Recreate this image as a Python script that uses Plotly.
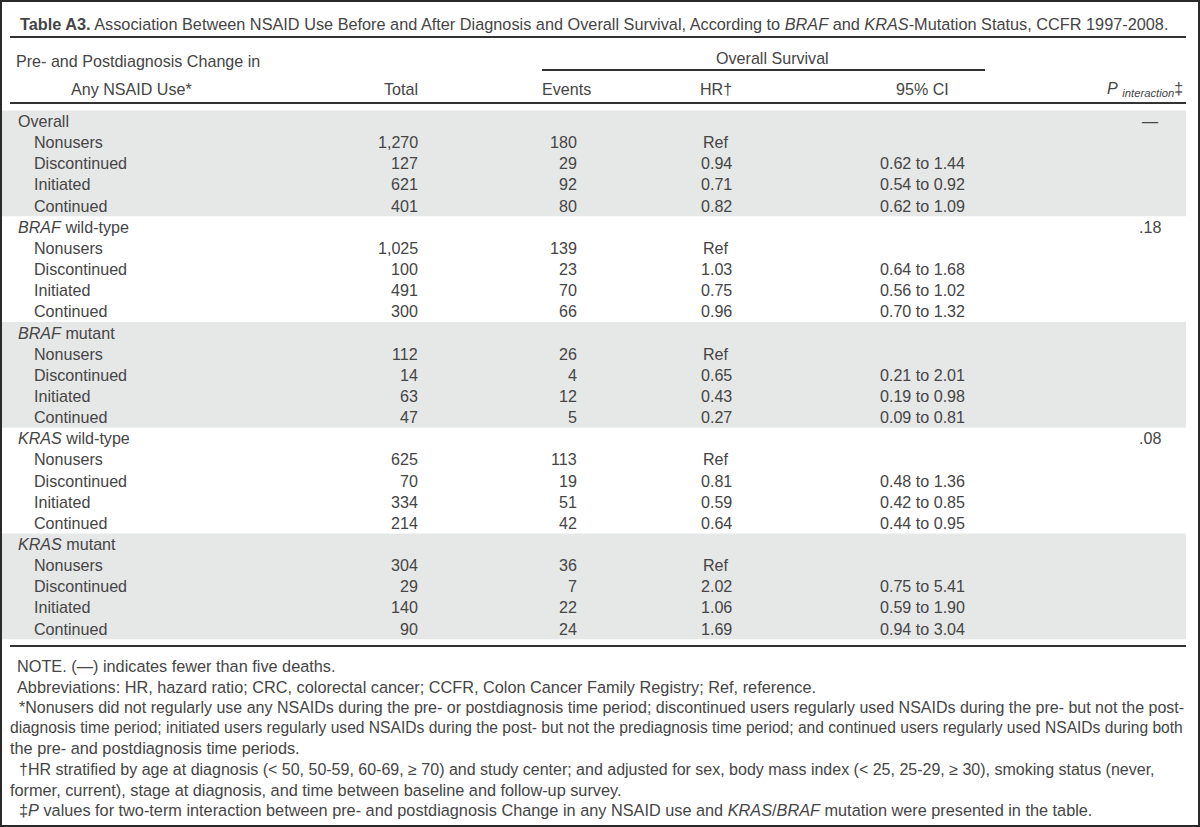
import plotly.graph_objects as go

# ---- data -------------------------------------------------------------
groups = ["Overall", "<i>BRAF</i> wild-type", "<i>BRAF</i> mutant",
          "<i>KRAS</i> wild-type", "<i>KRAS</i> mutant"]
p_interaction = ["—", ".18", "", ".08", ""]
use_levels = ["Nonusers", "Discontinued", "Initiated", "Continued"]

totals = [[1270, 127, 621, 401],
          [1025, 100, 491, 300],
          [112, 14, 63, 47],
          [625, 70, 334, 214],
          [304, 29, 140, 90]]
events = [[180, 29, 92, 80],
          [139, 23, 70, 66],
          [26, 4, 12, 5],
          [113, 19, 51, 42],
          [36, 7, 22, 24]]
hr = [["Ref", "0.94", "0.71", "0.82"],
      ["Ref", "1.03", "0.75", "0.96"],
      ["Ref", "0.65", "0.43", "0.27"],
      ["Ref", "0.81", "0.59", "0.64"],
      ["Ref", "2.02", "1.06", "1.69"]]
ci_low = [[None, "0.62", "0.54", "0.62"],
          [None, "0.64", "0.56", "0.70"],
          [None, "0.21", "0.19", "0.09"],
          [None, "0.48", "0.42", "0.44"],
          [None, "0.75", "0.59", "0.94"]]
ci_high = [[None, "1.44", "0.92", "1.09"],
           [None, "1.68", "1.02", "1.32"],
           [None, "2.01", "0.98", "0.81"],
           [None, "1.36", "0.85", "0.95"],
           [None, "5.41", "1.90", "3.04"]]

title = ("<b>Table A3.</b> Association Between NSAID Use Before and After Diagnosis and Overall "
         "Survival, According to <i>BRAF</i> and <i>KRAS</i>-Mutation Status, CCFR 1997-2008.")
footnotes = [
    "NOTE. (—) indicates fewer than five deaths.",
    "Abbreviations: HR, hazard ratio; CRC, colorectal cancer; CCFR, Colon Cancer Family Registry; Ref, reference.",
    "*Nonusers did not regularly use any NSAIDs during the pre- or postdiagnosis time period; discontinued users regularly used NSAIDs during the pre- but not the post-",
    "diagnosis time period; initiated users regularly used NSAIDs during the post- but not the prediagnosis time period; and continued users regularly used NSAIDs during both",
    "the pre- and postdiagnosis time periods.",
    "†HR stratified by age at diagnosis (&lt; 50, 50-59, 60-69, ≥ 70) and study center; and adjusted for sex, body mass index (&lt; 25, 25-29, ≥ 30), smoking status (never,",
    "former, current), stage at diagnosis, and time between baseline and follow-up survey.",
    "‡<i>P</i> values for two-term interaction between pre- and postdiagnosis Change in any NSAID use and <i>KRAS</i>/<i>BRAF</i> mutation were presented in the table.",
]
# indent and font size per footnote line (justified lines are squeezed to the rule width)
foot_x = [15, 15, 17, 8, 8, 17, 8, 17]
foot_fs = [16.3, 16.3, 16.0, 15.6, 16.3, 16.0, 16.3, 16.3]

# ---- layout constants -------------------------------------------------
W, H = 1200, 827
FONT = "Liberation Sans"
TXT = "#454545"
SHADE = "#e6e7e7"
RULE = "#333333"
FS = 16.1
ROW0, ROW_H = 121, 21.15
X_L, X_R = 10, 1186
X_GROUP, X_SUB = 16, 32
X_TOTAL, X_EVENTS, X_HR, X_CI, X_P = 420, 579, 716, 922, 1150

fig = go.Figure()
annotations = []
shapes = []


def txt(x, y, s, anchor="left", size=FS, color=TXT):
    annotations.append(dict(x=x, y=y, xref="x", yref="y", text=s, showarrow=False,
                            xanchor=anchor, yanchor="middle",
                            font=dict(family=FONT, size=size, color=color)))


def hline(y, x0, x1, w=2):
    shapes.append(dict(type="line", xref="x", yref="y", x0=x0, x1=x1, y0=y, y1=y,
                       line=dict(color=RULE, width=w)))


# title + header
txt(18, 24, title, size=16.3)
hline(37, X_L, X_R)
txt(14, 61, "Pre- and Postdiagnosis Change in")
txt(131, 89, "Any NSAID Use*", anchor="center")
txt(X_TOTAL, 89, "Total", anchor="right")
txt(772, 58, "Overall Survival", anchor="center")
hline(70, 542, 985)
txt(566, 89, "Events", anchor="center")
txt(X_HR, 89, "HR†", anchor="center")
txt(X_CI, 89, "95% CI", anchor="center")
txt(X_R - 1, 89, "<i>P</i> <sub><i>interaction</i></sub>‡", anchor="right")
hline(103, X_L, X_R)

# body
row = 0
for g, name in enumerate(groups):
    y_top = ROW0 + row * ROW_H
    if g % 2 == 0:
        shapes.append(dict(type="rect", xref="x", yref="y", layer="below",
                           x0=1, x1=X_R, y0=y_top - ROW_H / 2, y1=y_top + 4.5 * ROW_H,
                           fillcolor=SHADE, line=dict(width=0)))
    txt(X_GROUP, y_top, name)
    if p_interaction[g]:
        txt(X_P, y_top, p_interaction[g], anchor="center")
    row += 1
    for k, lvl in enumerate(use_levels):
        y = ROW0 + row * ROW_H
        txt(X_SUB, y, lvl)
        txt(X_TOTAL, y, f"{totals[g][k]:,}", anchor="right")
        txt(X_EVENTS, y, str(events[g][k]), anchor="right")
        txt(X_HR, y, hr[g][k], anchor="center")
        if ci_low[g][k]:
            txt(X_CI, y, f"{ci_low[g][k]} to {ci_high[g][k]}", anchor="center")
        row += 1

hline(646, X_L, X_R)

# footnotes
for i, line in enumerate(footnotes):
    txt(foot_x[i], 666 + i * 20.6, line, size=foot_fs[i])

# outer frame
shapes.append(dict(type="rect", xref="x", yref="y", x0=1, x1=W - 1, y0=1, y1=H - 1,
                   line=dict(color="#2a2a2a", width=2)))

fig.update_layout(
    width=W, height=H,
    margin=dict(l=0, r=0, t=0, b=0),
    paper_bgcolor="white", plot_bgcolor="white",
    xaxis=dict(range=[0, W], visible=False, fixedrange=True),
    yaxis=dict(range=[H, 0], visible=False, fixedrange=True),
    annotations=annotations, shapes=shapes, showlegend=False,
)

fig.write_html("out.html", config={"displayModeBar": False},
               post_script="document.body.style.margin='0';")
